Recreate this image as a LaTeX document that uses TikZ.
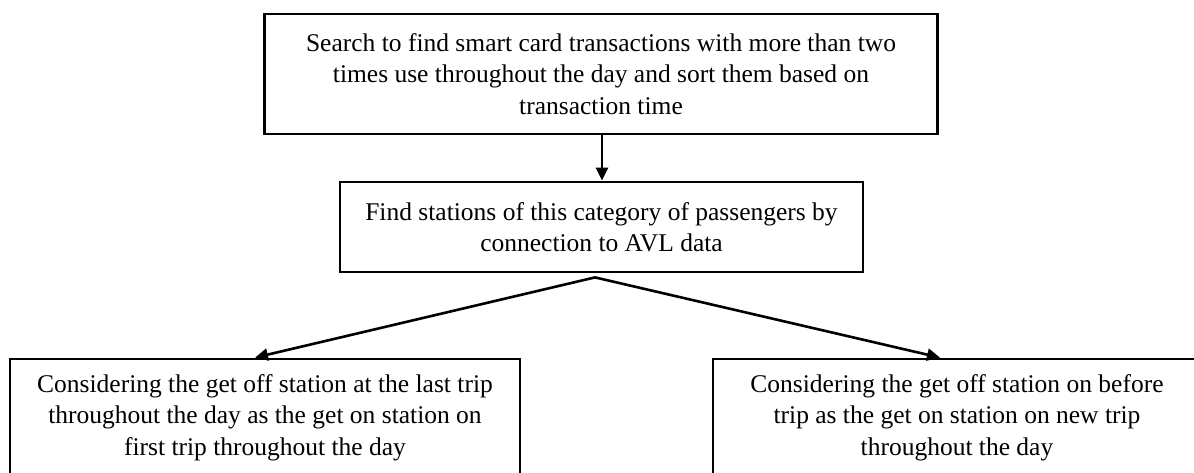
\documentclass[tikz,border=0pt]{standalone}
\usepackage{fontspec}
\setmainfont{Liberation Serif}
\usetikzlibrary{arrows.meta}
\begin{document}
\begin{tikzpicture}[x=1pt,y=-1pt,
  box/.style={draw=black,line width=2.8pt,align=center,inner sep=0pt,
    font=\fontsize{25.5}{31.5}\selectfont},
  conn/.style={line width=2.6pt,-{Triangle[length=13pt,width=12pt]}}]
\useasboundingbox (0,0) rectangle (1194,473);
\clip (0,0) rectangle (1194,473);
\fill[white] (0,0) rectangle (1194,473);
\node[box,minimum width=673pt,minimum height=120pt] (top) at (601,74)
  {Search to find smart card transactions with more than two\\
   times use throughout the day and sort them based on\\
   transaction time};
\node[box,minimum width=523pt,minimum height=90pt] (mid) at (601.5,227)
  {Find stations of this category of passengers by\\
   connection to AVL data};
\node[box,minimum width=510pt,minimum height=117pt] (bl) at (265,417.5)
  {Considering the get off station at the last trip\\
   throughout the day as the get on station on\\
   first trip throughout the day};
\node[box,minimum width=488pt,minimum height=117pt] (br) at (957,417.5)
  {Considering the get off station on before\\
   trip as the get on station on new trip\\
   throughout the day};
\coordinate (apex) at ([yshift=-4pt]mid.south -| 595,0);
\coordinate (tl) at ([xshift=-10pt]bl.north);
\coordinate (tr) at ([xshift=-17pt]br.north);
\draw[conn] (top.south -| 602,0) -- (mid.north -| 602,0);
\draw[conn] (apex) -- (tl);
\draw[conn] (apex) -- (tr);
\end{tikzpicture}
\end{document}
